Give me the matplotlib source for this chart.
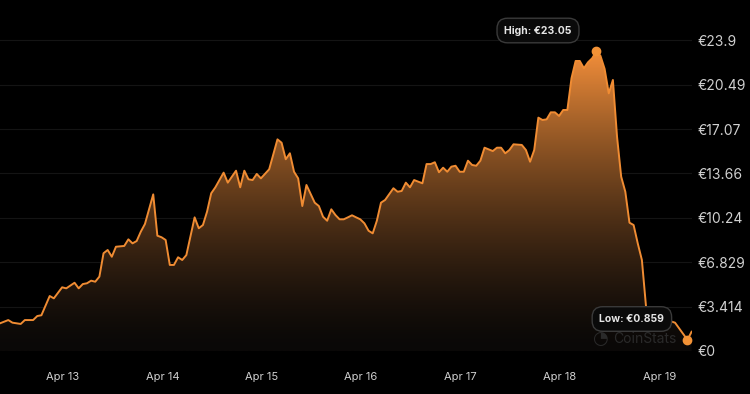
import numpy as np
import pandas as pd
import matplotlib
matplotlib.use('Agg')
import matplotlib.pyplot as plt
import matplotlib.dates as mdates
from matplotlib.patches import Polygon

# data: hours since the first sample, price in EUR
start = pd.Timestamp('2024-04-12 08:48')
hours = [0, 2, 3, 5, 6, 8, 9, 10, 12, 13, 15, 16, 18, 19, 20, 21, 22, 23, 24,
         25, 26, 27, 28, 30, 31, 32, 33, 34, 35, 37, 38, 39, 40, 41, 42, 43,
         44, 45, 47, 48, 49, 50, 51, 52, 54, 55, 57, 58, 59, 60, 61, 62, 63,
         65, 67, 68, 69, 70, 71, 72, 73, 74, 75, 76, 77, 78, 79, 80, 81, 82,
         83, 84, 85, 86, 87, 88, 89, 90, 91, 92, 93, 95, 96, 97, 98, 99, 100,
         102, 103, 104, 105, 106, 107, 108, 109, 110, 111, 112, 113, 114, 115,
         116, 117, 119, 120, 121, 122, 123, 124, 126, 127, 128, 129, 130, 131,
         132, 133, 134, 135, 136, 137, 138, 139, 140, 141, 142, 143, 144, 145,
         146, 147, 148, 149, 150, 151, 152, 153, 154, 155, 156, 157, 159, 161,
         163, 166, 167]
prices = [2.13, 2.38, 2.18, 2.08, 2.38, 2.38, 2.69, 2.75, 4.23, 4.05, 4.90,
          4.82, 5.25, 4.82, 5.15, 5.21, 5.41, 5.33, 5.72, 7.52, 7.77, 7.25,
          8.02, 8.08, 8.59, 8.28, 8.46, 9.18, 9.77, 12.05, 8.87, 8.75, 8.54,
          6.62, 6.62, 7.21, 7.00, 7.38, 10.28, 9.44, 9.69, 10.72, 12.13, 12.59,
          13.72, 12.95, 13.87, 12.59, 13.87, 13.21, 13.15, 13.62, 13.28, 13.98,
          16.28, 16.02, 14.75, 15.21, 13.79, 13.28, 11.15, 12.77, 12.08, 11.41,
          11.15, 10.33, 10.02, 10.90, 10.46, 10.13, 10.13, 10.28, 10.44, 10.28,
          10.13, 9.82, 9.25, 9.05, 10.02, 11.41, 11.62, 12.52, 12.25, 12.31,
          12.95, 12.59, 13.15, 12.90, 14.38, 14.38, 14.52, 13.75, 14.10, 13.79,
          14.18, 14.25, 13.79, 13.79, 14.64, 14.31, 14.25, 14.64, 15.64, 15.38,
          15.64, 15.64, 15.21, 15.46, 15.90, 15.85, 15.46, 14.56, 15.46, 17.95,
          17.77, 17.82, 18.36, 18.36, 18.08, 18.54, 18.54, 20.98, 22.31, 22.31,
          21.75, 22.21, 22.52, 23.05, 22.70, 21.70, 19.82, 20.85, 16.48, 13.41,
          12.25, 9.87, 9.69, 8.28, 7.00, 3.41, 3.00, 2.69, 2.38, 2.18, 0.859,
          1.48]
y_ticks = [0, 3.414, 6.829, 10.24, 13.66, 17.07, 20.49, 23.9]
y_labels = ['€0', '€3.414', '€6.829', '€10.24', '€13.66', '€17.07', '€20.49', '€23.9']

plt.rcParams['font.family'] = ['Inter', 'DejaVu Sans']

times = start + pd.to_timedelta(hours, unit='h')
x = mdates.date2num(times)
y = np.array(prices)

fig = plt.figure(figsize=(7.5, 3.94), dpi=100)
fig.patch.set_facecolor('black')
ax = fig.add_axes([0, 43 / 394, 692 / 750, 351 / 394])
ax.set_facecolor('black')

x0 = mdates.date2num(start)
x1 = mdates.date2num(start + pd.Timedelta(hours=167.1))
ymax = 27.0
ax.set_xlim(x0, x1)
ax.set_ylim(0, ymax)

# gradient fill under the line
n = 256
frac = np.linspace(0, 1, n) * (ymax / 23.05)
frac = np.clip(frac, 0, 1) ** 1.5
top = np.array([242, 142, 58]) / 255
bot = np.array([10, 8, 7]) / 255
grad = bot + (top - bot) * frac[:, None]
img = ax.imshow(grad[:, None, :], extent=[x0, x1, 0, ymax], origin='lower',
                aspect='auto', zorder=1, interpolation='bilinear')
poly = Polygon(np.column_stack([np.r_[x[0], x, x[-1]], np.r_[0, y, 0]]),
               closed=True, facecolor='none', edgecolor='none')
ax.add_patch(poly)
img.set_clip_path(poly)

ax.plot(x, y, color='#f08c33', lw=1.4, zorder=3, solid_joinstyle='round')

# high / low markers
hi = int(np.argmax(y))
lo = int(np.argmin(y))
ax.plot([x[hi], x[lo]], [y[hi], y[lo]], 'o', color='#f39236', ms=6, zorder=4)
box = dict(boxstyle='round,pad=0.7,rounding_size=1.0', fc='#0a0a0a',
           ec='#3a3a3a', lw=1)
ax.annotate(f'High: €{prices[hi]:.2f}', (x[hi], y[hi]), xytext=(-42, 15),
            textcoords='offset points', ha='center', va='center', fontsize=7.5,
            fontweight='bold', color='#e6e6e6', bbox=box, zorder=5)
ax.annotate(f'Low: €{prices[lo]:.3f}', (x[lo], y[lo]), xytext=(-40, 15),
            textcoords='offset points', ha='center', va='center', fontsize=7.5,
            fontweight='bold', color='#e6e6e6', bbox=box, zorder=5)

# watermark
fig.text(600 / 750, 1 - 339 / 394, '◔', color='#2a2a2a', fontsize=13,
         ha='center', va='center', family=['DejaVu Sans'])
fig.text(613 / 750, 1 - 339 / 394, 'CoinStats', color='#2a2a2a', fontsize=10,
         ha='left', va='center')

ax.set_yticks(y_ticks)
ax.set_yticklabels(y_labels)
ax.yaxis.tick_right()
ax.grid(axis='y', color='#141414', lw=0.8)
ax.set_axisbelow(True)
ax.tick_params(axis='y', length=0, pad=4, labelsize=10, labelcolor='#d0d0d0')
ax.tick_params(axis='x', length=0, pad=15, labelsize=8, labelcolor='#d0d0d0')
ax.xaxis.set_major_locator(mdates.DayLocator())
ax.xaxis.set_major_formatter(mdates.DateFormatter('%b %d'))
for s in ax.spines.values():
    s.set_visible(False)

fig.savefig('out.png', dpi=100, facecolor='black')
